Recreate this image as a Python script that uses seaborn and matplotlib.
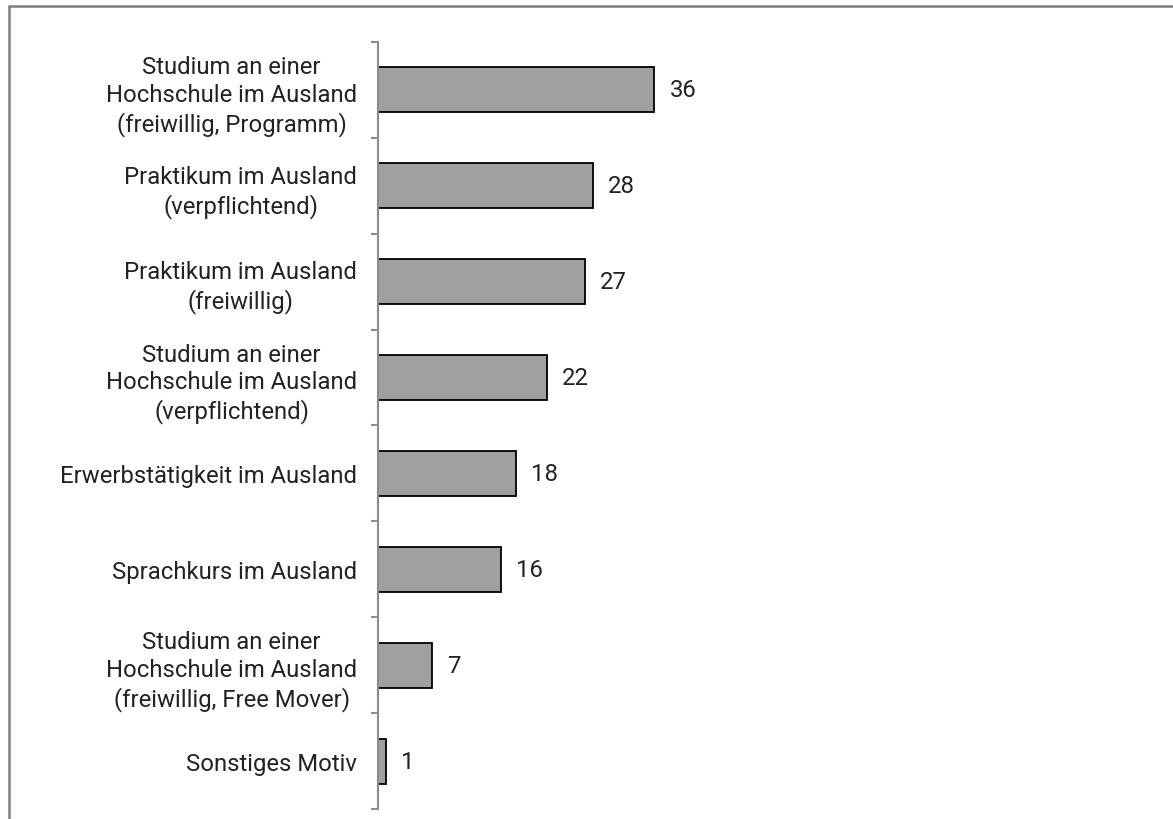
import matplotlib
matplotlib.use("Agg")
import matplotlib.pyplot as plt
import seaborn as sns
import pandas as pd
from matplotlib.lines import Line2D
from matplotlib.ticker import FixedLocator

categories = [
    "Studium an einer\nHochschule im Ausland\n(freiwillig, Programm)",
    "Praktikum im Ausland\n(verpflichtend)",
    "Praktikum im Ausland\n(freiwillig)",
    "Studium an einer\nHochschule im Ausland\n(verpflichtend)",
    "Erwerbstätigkeit im Ausland",
    "Sprachkurs im Ausland",
    "Studium an einer\nHochschule im Ausland\n(freiwillig, Free Mover)",
    "Sonstiges Motiv",
]
values = [36, 28, 27, 22, 18, 16, 7, 1]

df = pd.DataFrame({"cat": categories, "val": values})

sns.set_theme(style="white")
plt.rcParams["font.family"] = ["Roboto", "DejaVu Sans"]

fig = plt.figure(figsize=(11.73, 8.2), dpi=100)
ax = fig.add_axes([0.3223, 0.0122, 0.6537, 0.9354])

sns.barplot(data=df, y="cat", x="val", orient="h", color="#a0a0a0",
            edgecolor="black", linewidth=1.3, width=0.47, saturation=1, ax=ax)

ax.set_xlim(0, 100)
ax.set_ylim(len(categories) - 0.5, -0.5)
ax.set_xlabel("")
ax.set_ylabel("")
ax.set_xticks([])

for s in ["top", "right", "bottom"]:
    ax.spines[s].set_visible(False)
ax.spines["left"].set_color("#8c8c8c")
ax.spines["left"].set_linewidth(1.5)

ax.tick_params(axis="y", which="major", length=0, pad=15, labelsize=17.2, labelcolor="#222222")
ax.yaxis.set_minor_locator(FixedLocator([i - 0.5 for i in range(len(categories) + 1)]))
ax.tick_params(axis="y", which="minor", length=5, width=1.5, color="#8c8c8c", left=True)
for lbl in ax.get_yticklabels():
    lbl.set_multialignment("center")
    lbl.set_linespacing(1.26)

for c in ax.containers:
    ax.bar_label(c, labels=[str(v) for v in values], padding=11, fontsize=17.2,
                 color="#222222")

# partial border
fig.add_artist(Line2D([0.0075, 1.0], [0.9915, 0.9915], transform=fig.transFigure, color="#808080", lw=1.8))
fig.add_artist(Line2D([0.0075, 0.0075], [0.0, 0.9915], transform=fig.transFigure, color="#808080", lw=1.8))

fig.savefig("out.png", dpi=100)
